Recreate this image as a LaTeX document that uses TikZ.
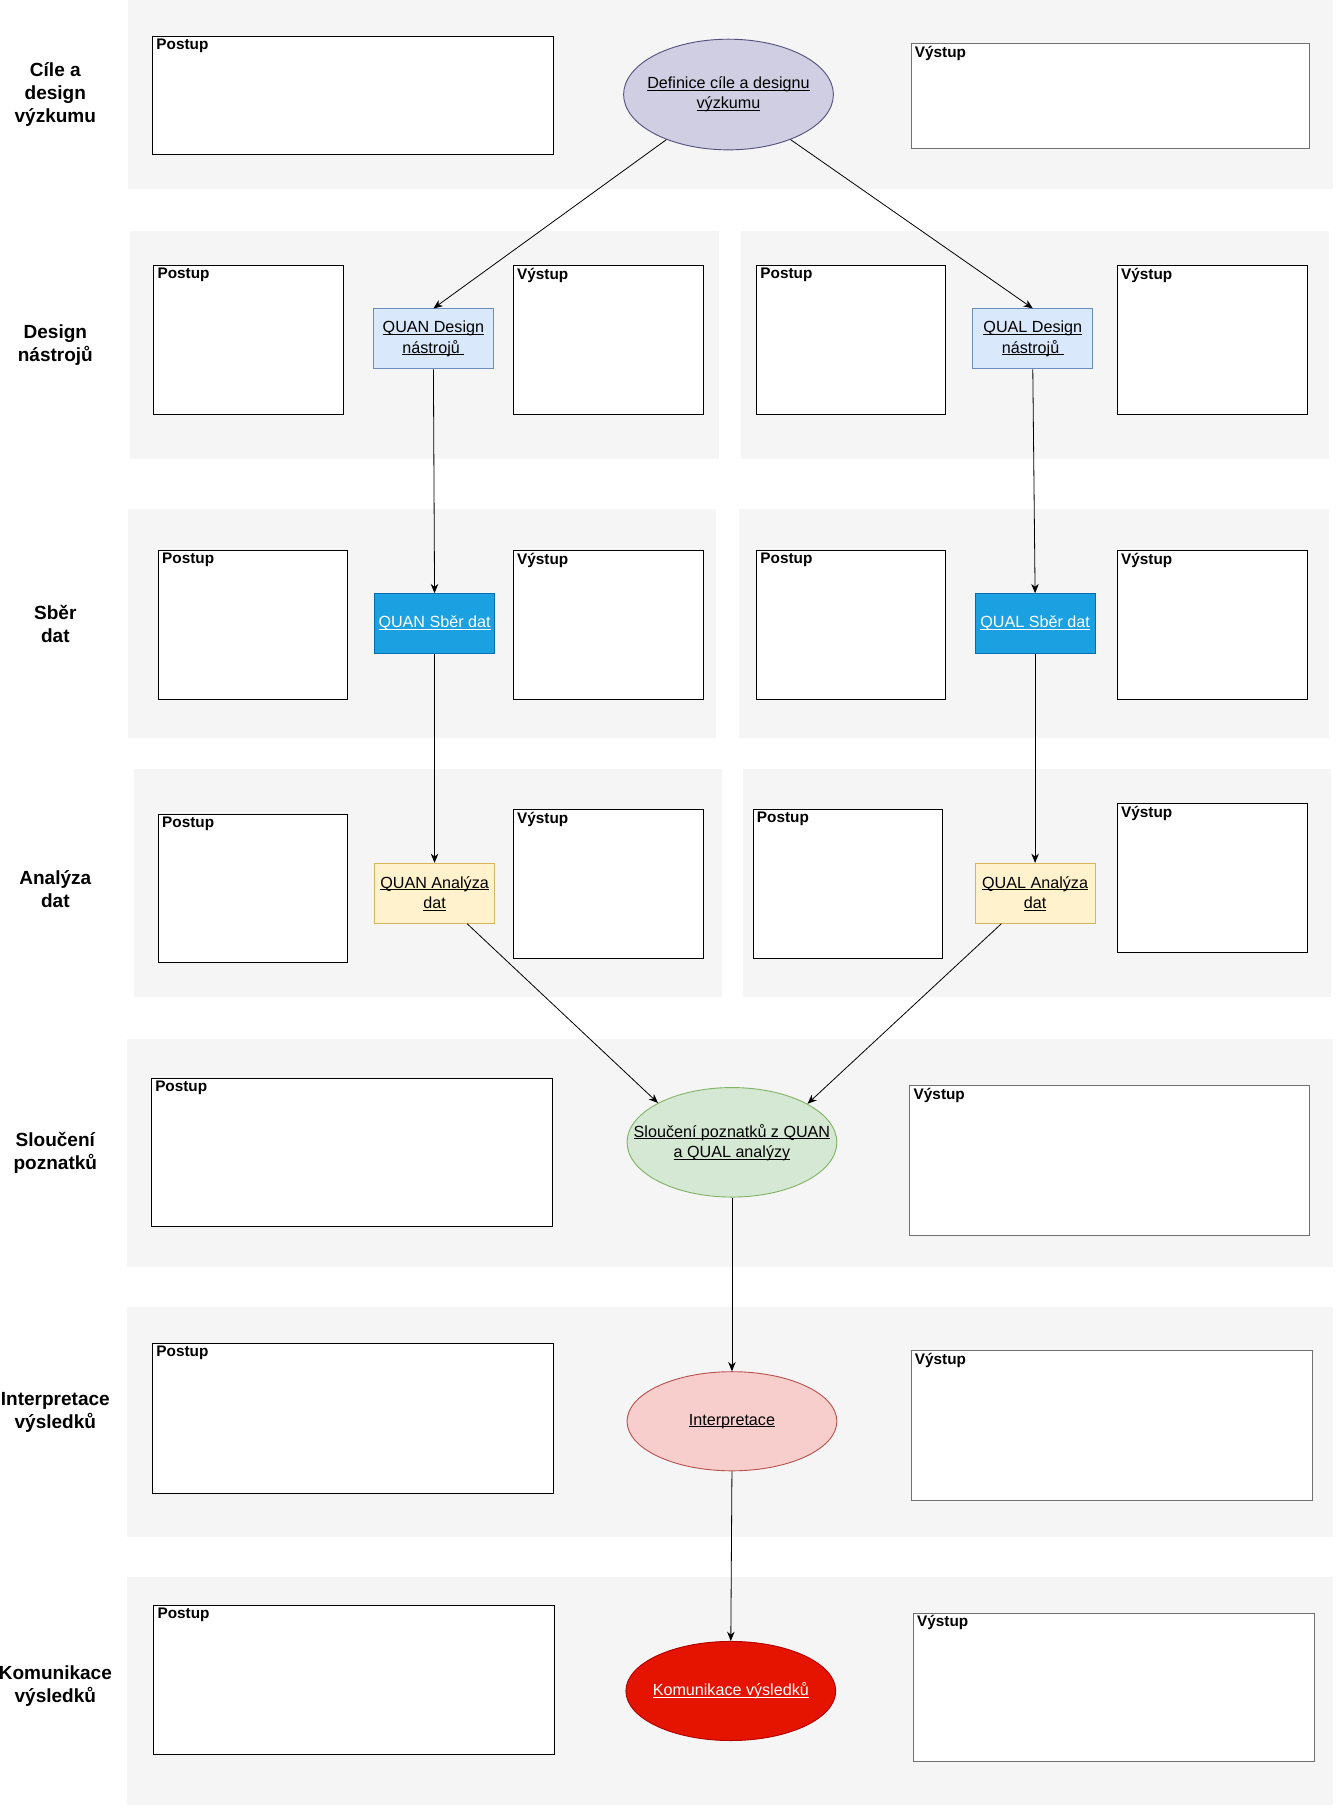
\documentclass[tikz,border=0pt]{standalone}
\usepackage{fontspec}
\setmainfont{Liberation Sans}
\usetikzlibrary{shapes.geometric,arrows.meta,calc}
\definecolor{bandgray}{HTML}{F5F5F5}
\definecolor{purfill}{HTML}{D0CEE2}\definecolor{purline}{HTML}{56517E}
\definecolor{lbfill}{HTML}{DAE8FC}\definecolor{lbline}{HTML}{6C8EBF}
\definecolor{bfill}{HTML}{1BA1E2}\definecolor{bline}{HTML}{006EAF}
\definecolor{yfill}{HTML}{FFF2CC}\definecolor{yline}{HTML}{D6B656}
\definecolor{gfill}{HTML}{D5E8D4}\definecolor{gline}{HTML}{82B366}
\definecolor{rlfill}{HTML}{F8CECC}\definecolor{rlline}{HTML}{B85450}
\definecolor{rfill}{HTML}{E51400}\definecolor{rline}{HTML}{B20000}
\definecolor{vline}{HTML}{707070}
\newcommand\ulx[1]{\setbox0\hbox{#1}\hbox{\rlap{\rule[-1.9pt]{\wd0}{0.75pt}}\box0}}
\newcommand\mkpanel[7]{%
  \node[panel,draw=#7,minimum width={#4-#2},minimum height={#5-#3},anchor=north west,
    label={[paneltitle]north west:#6}] (#1) at (#2,#3) {};}
\tikzset{
  band/.style={fill=bandgray},
  panel/.style={fill=white,line width=0.8pt,inner sep=0pt},
  paneltitle/.style={anchor=north west,inner xsep=3.5pt,inner ysep=2.5pt,
    font=\fontsize{13.3}{15}\selectfont\bfseries},
  stagelabel/.style={align=center,font=\fontsize{16.5}{20}\selectfont\bfseries},
  boxnode/.style={rectangle,minimum width=104,minimum height=52,inner sep=0pt,
    align=center,line width=0.8pt,font=\fontsize{14}{17.5}\selectfont},
  ellnode/.style={ellipse,minimum width=182,inner sep=0pt,line width=0.8pt},
  ntext/.style={align=center,font=\fontsize{14}{17.5}\selectfont,inner sep=0pt},
  conn/.style={line width=0.7pt,-{Stealth[length=8pt,width=6.5pt,inset=2.5pt]}},
}
\begin{document}
\begin{tikzpicture}[x=1pt,y=-1pt]
\useasboundingbox (0,0) rectangle (1160,1572);
% bands
\fill[band] (111,0) rectangle (1156,164);
\fill[band] (113,200) rectangle (624,398);
\fill[band] (643,200) rectangle (1153,398);
\fill[band] (111,442) rectangle (621,640);
\fill[band] (641,442) rectangle (1153,640);
\fill[band] (116,667) rectangle (626,865);
\fill[band] (645,667) rectangle (1155,865);
\fill[band] (110,901) rectangle (1156,1099);
\fill[band] (110,1134) rectangle (1156,1333);
\fill[band] (110,1368) rectangle (1156,1566);
% stage labels
\node[stagelabel] (s1) at (48,82) {Cíle a\\design\\výzkumu};
\node[stagelabel] (s2) at (48,299) {Design\\nástrojů};
\node[stagelabel] (s3) at (48,541) {Sběr\\dat};
\node[stagelabel] (s4) at (48,771) {Analýza\\dat};
\node[stagelabel] (s5) at (48,1000) {Sloučení\\poznatků};
\node[stagelabel] (s6) at (48,1225) {Interpretace\\výsledků};
\node[stagelabel] (s7) at (48,1463) {Komunikace\\výsledků};
% panels
\mkpanel{p1}{132}{31}{480}{134}{Postup}{black}
\mkpanel{v1}{790}{37}{1136}{128}{Výstup}{vline}
\mkpanel{p2a}{133}{230}{298}{359}{Postup}{black}
\mkpanel{v2a}{445}{230}{610}{359}{Výstup}{black}
\mkpanel{p2b}{656}{230}{820}{359}{Postup}{black}
\mkpanel{v2b}{969}{230}{1134}{359}{Výstup}{black}
\mkpanel{p3a}{137}{477}{301}{606}{Postup}{black}
\mkpanel{v3a}{445}{477}{610}{606}{Výstup}{black}
\mkpanel{p3b}{656}{477}{820}{606}{Postup}{black}
\mkpanel{v3b}{969}{477}{1134}{606}{Výstup}{black}
\mkpanel{p4a}{137}{706}{301}{835}{Postup}{black}
\mkpanel{v4a}{445}{702}{610}{831}{Výstup}{black}
\mkpanel{p4b}{653}{702}{817}{831}{Postup}{black}
\mkpanel{v4b}{969}{697}{1134}{826}{Výstup}{black}
\mkpanel{p5}{131}{935}{479}{1064}{Postup}{black}
\mkpanel{v5}{789}{941}{1136}{1071}{Výstup}{vline}
\mkpanel{p6}{132}{1165}{480}{1295}{Postup}{black}
\mkpanel{v6}{790}{1171}{1138}{1301}{Výstup}{vline}
\mkpanel{p7}{133}{1392}{481}{1522}{Postup}{black}
\mkpanel{v7}{792}{1399}{1140}{1528}{Výstup}{vline}
% process nodes
\node[ellnode,minimum height=96,fill=purfill,draw=purline] (e1) at (632,82) {};
\node[ntext] (e1t) at (e1) {\ulx{Definice cíle a designu}\\\ulx{výzkumu}};
\node[boxnode,fill=lbfill,draw=lbline] (qd) at (376,294) {\ulx{QUAN Design}\\\ulx{nástrojů\ }};
\node[boxnode,fill=lbfill,draw=lbline] (ld) at (896,294) {\ulx{QUAL Design}\\\ulx{nástrojů\ }};
\node[boxnode,fill=bfill,draw=bline,text=white] (qs) at (377,541) {\ulx{QUAN Sběr dat}};
\node[boxnode,fill=bfill,draw=bline,text=white] (ls) at (898,541) {\ulx{QUAL Sběr dat}};
\node[boxnode,fill=yfill,draw=yline] (qa) at (377,775) {\ulx{QUAN Analýza}\\\ulx{dat}};
\node[boxnode,fill=yfill,draw=yline] (la) at (898,775) {\ulx{QUAL Analýza}\\\ulx{dat}};
\node[ellnode,minimum height=95,fill=gfill,draw=gline] (m) at (635,991) {};
\node[ntext] (mt) at (m) {\ulx{Sloučení poznatků z QUAN}\\\ulx{a QUAL analýzy}};
\node[ellnode,minimum height=86,fill=rlfill,draw=rlline] (ip) at (635,1233) {};
\node[ntext] (ipt) at (ip) {\ulx{Interpretace}};
\node[ellnode,minimum height=86,fill=rfill,draw=rline] (km) at (634,1467) {};
\node[ntext,text=white] (kmt) at (km) {\ulx{Komunikace výsledků}};
% connectors
\draw[conn] (e1.216) -- (qd.north);
\draw[conn] (e1.324) -- (ld.north);
\draw[conn] (qd.south) -- (qs.north);
\draw[conn] (ld.south) -- (ls.north);
\draw[conn] (qs.south) -- (qa.north);
\draw[conn] (ls.south) -- (la.north);
\draw[conn] (qa.-43) -- (m.152);
\draw[conn] (la.-138) -- (m.27);
\draw[conn] (m.south) -- (ip.north);
\draw[conn] (ip.south) -- (km.north);
\end{tikzpicture}
\end{document}
